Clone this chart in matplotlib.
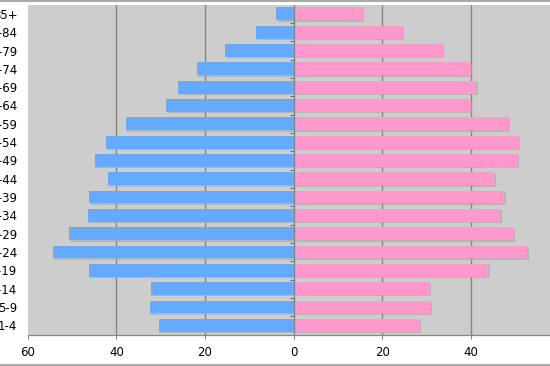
import matplotlib
matplotlib.use("Agg")
import matplotlib.pyplot as plt
import matplotlib.patheffects as pe
import numpy as np

age_groups = ["85+", "80-84", "75-79", "70-74", "65-69", "60-64", "55-59", "50-54",
              "45-49", "40-44", "35-39", "30-34", "25-29", "20-24", "15-19",
              "10-14", "5-9", "1-4"]
male = [3.9, 8.4, 15.6, 21.9, 26.1, 28.7, 37.9, 42.3, 44.9, 41.9, 46.1, 46.5,
        50.8, 54.4, 46.2, 32.2, 32.5, 30.4]
female = [15.6, 24.6, 33.7, 40.0, 41.2, 40.0, 48.5, 50.8, 50.6, 45.3, 47.5, 46.6,
          49.6, 52.7, 43.9, 30.7, 31.0, 28.5]
x_ticks = [-60, -40, -20, 0, 20, 40]
x_ticklabels = ["60", "40", "20", "0", "20", "40"]

fig = plt.figure(figsize=(5.5, 3.66), dpi=100)
ax = fig.add_axes([27.8 / 550, 1 - 334.5 / 366, (559.5 - 27.8) / 550, (334.5 - 4.7) / 366])
ax.set_facecolor("#cdcdcd")

n = len(age_groups)
y = np.arange(n)[::-1]

shadow = [pe.SimplePatchShadow(offset=(1, -1), shadow_rgbFace="#a8a8a8", alpha=0.6), pe.Normal()]
bm = ax.barh(y, -np.array(male), height=0.7, color="#66aaff", zorder=3)
bf = ax.barh(y, female, height=0.7, color="#ff99cc", zorder=3)
for b in list(bm) + list(bf):
    b.set_path_effects(shadow)

ax.set_xlim(-60, 60)
ax.set_ylim(-0.5, n - 0.5)

for gx in [-40, -20, 20, 40]:
    ax.axvline(gx, color="#858585", lw=1.0, zorder=1)
ax.axvline(0, color="#858585", lw=1.0, zorder=4)
ax.plot(np.zeros(n - 1), np.arange(n - 1) + 0.5, ls="", marker=0, ms=3,
        mew=0.8, color="#707070", zorder=5)

ax.set_xticks(x_ticks)
ax.set_xticklabels(x_ticklabels)
ax.set_yticks(y)
ax.set_yticklabels(age_groups)
ax.tick_params(axis="y", length=0, pad=7.5, labelsize=8.5, colors="black")
ax.tick_params(axis="x", length=3, width=0.8, color="#888888", pad=5, labelsize=8.5)

for s in ["top", "right", "left"]:
    ax.spines[s].set_visible(False)
ax.spines["bottom"].set_color("#888888")
ax.spines["bottom"].set_linewidth(0.9)

fig.add_artist(plt.Line2D([0, 1], [1 - 0.5 / 366, 1 - 0.5 / 366], transform=fig.transFigure,
                          color="#aaaaaa", lw=1.5))
fig.add_artist(plt.Line2D([0, 1], [0.8 / 366, 0.8 / 366], transform=fig.transFigure,
                          color="#aaaaaa", lw=1.5))

fig.savefig("out.png", dpi=100)
